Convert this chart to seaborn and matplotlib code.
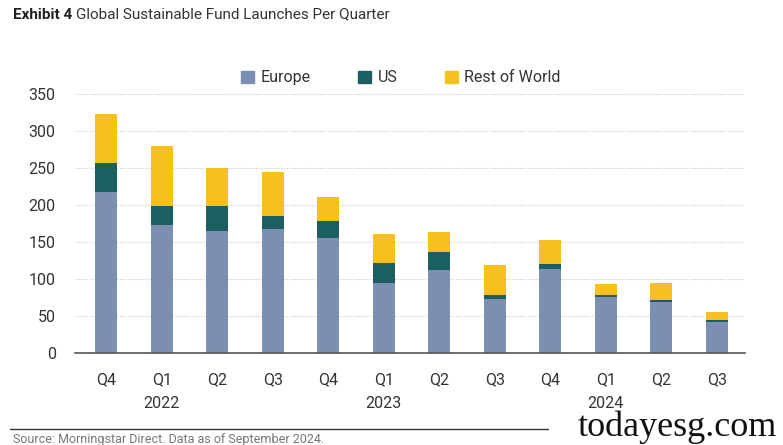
import matplotlib
matplotlib.use("Agg")
import matplotlib.pyplot as plt
import seaborn as sns
import numpy as np
import pandas as pd
from matplotlib.patches import Patch

quarters = ["2021Q4", "2022Q1", "2022Q2", "2022Q3", "2022Q4", "2023Q1",
            "2023Q2", "2023Q3", "2023Q4", "2024Q1", "2024Q2", "2024Q3"]
tick_labels = ["Q4", "Q1\n2022", "Q2", "Q3", "Q4", "Q1\n2023",
               "Q2", "Q3", "Q4", "Q1\n2024", "Q2", "Q3"]
europe = [217, 173, 165, 167, 156, 94, 112, 73, 114, 75, 69, 42]
us = [39, 25, 34, 18, 22, 28, 25, 6, 6, 3, 3, 2]
rest_of_world = [67, 82, 51, 60, 33, 39, 26, 40, 33, 15, 23, 12]

c_eu = "#7b8fb3"
c_us = "#1c5f60"
c_row = "#f6c11d"

sns.set_theme(style="white")
FONT = ["Roboto", "DejaVu Sans"]
plt.rcParams["font.family"] = FONT

df = pd.DataFrame({"q": quarters, "eu": europe, "us": us, "row": rest_of_world})
df["lvl_us"] = df["eu"] + df["us"]
df["lvl_row"] = df["lvl_us"] + df["row"]

fig = plt.figure(figsize=(7.83, 4.45), dpi=100)
ax = fig.add_axes([0.096, 0.2067, 0.855, 0.5823])

for col, color in [("lvl_row", c_row), ("lvl_us", c_us), ("eu", c_eu)]:
    sns.barplot(data=df, x="q", y=col, order=quarters, color=color,
                width=0.4, saturation=1, ax=ax, zorder=3, linewidth=0,
                edgecolor="none")

ax.set_ylim(0, 350)
ax.set_xlim(-0.56, 11.5)
ax.set_yticks(range(0, 351, 50))
ax.yaxis.grid(True, color="#c8c8c8", linestyle=(0, (1, 1.5)), linewidth=0.8, zorder=0)
ax.set_axisbelow(True)
ax.set_xticks(range(len(quarters)))
ax.set_xticklabels(tick_labels, linespacing=1.75)
ax.tick_params(axis="both", length=0, labelsize=11.5, colors="#333333")
ax.tick_params(axis="x", pad=14)
ax.tick_params(axis="y", pad=14)
ax.set_xlabel("")
ax.set_ylabel("")
for s in ["top", "right", "left"]:
    ax.spines[s].set_visible(False)
ax.spines["bottom"].set_color("#555555")
ax.spines["bottom"].set_linewidth(1.2)
ax.spines["bottom"].set_zorder(5)

handles = [Patch(color=c_eu, label="Europe"), Patch(color=c_us, label="US"),
           Patch(color=c_row, label="Rest of World")]
fig.legend(handles=handles, loc="center", bbox_to_anchor=(0.512, 0.825), ncol=3,
           frameon=False, fontsize=11.5, handlelength=0.8, handleheight=0.8,
           handletextpad=0.4, columnspacing=3.0, labelcolor="#333333")

fig.text(0.016, 0.967, "Exhibit 4", fontsize=11, fontweight="bold", color="#222222",
         va="center", ha="left")
fig.text(0.097, 0.967, "Global Sustainable Fund Launches Per Quarter", fontsize=11,
         color="#333333", va="center", ha="left")

fig.add_artist(plt.Line2D([0.013, 0.7], [0.035, 0.035], color="#333333", lw=1.0))
fig.text(0.016, 0.012, "Source: Morningstar Direct. Data as of September 2024.",
         fontsize=9, color="#777777", va="center", ha="left")
fig.text(0.992, 0.003, "todayesg.com", fontsize=26, color="#111111",
         family=["Liberation Serif", "DejaVu Serif"], va="bottom", ha="right")

fig.savefig("out.png", dpi=100)
